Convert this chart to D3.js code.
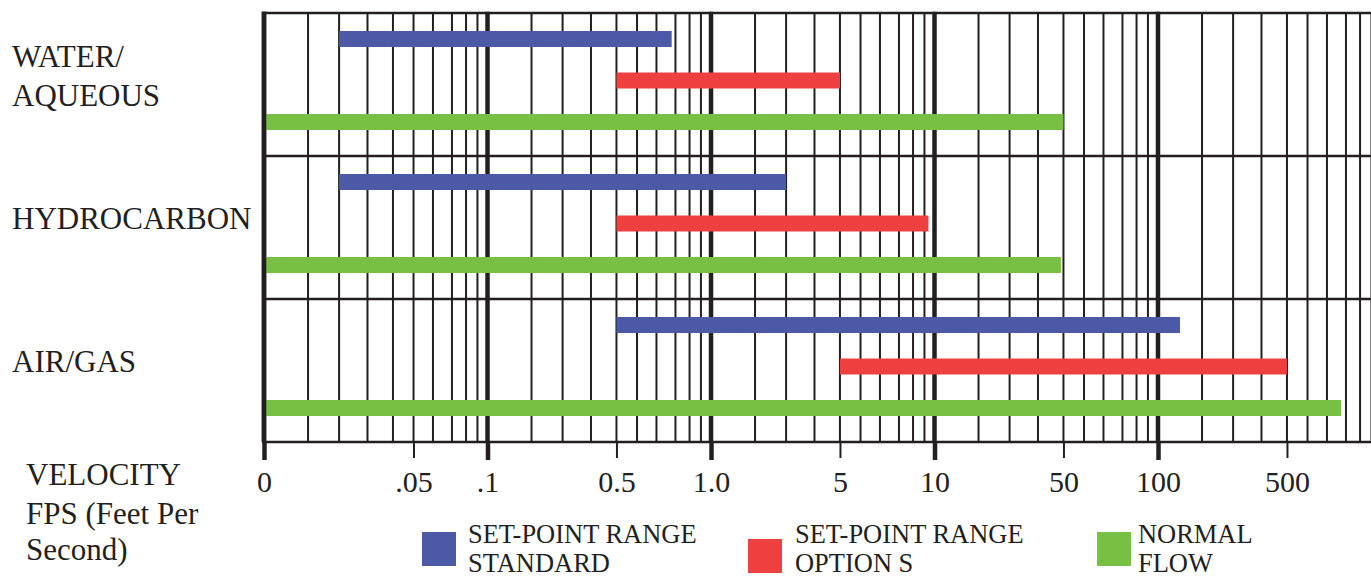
<!DOCTYPE html>
<html>
<head>
<meta charset="utf-8">
<script src="https://cdn.jsdelivr.net/npm/d3@7"></script>
<style>
  body { margin: 0; background: #fff; }
  svg { display: block; font-family: "Liberation Serif", "Times New Roman", serif; }
</style>
</head>
<body>
<div id="chart"></div>
<script>
// fluid rows
const fluids = ['WATER/AQUEOUS', 'HYDROCARBON', 'AIR/GAS'];
const fluidLabels = [['WATER/', 'AQUEOUS'], ['HYDROCARBON'], ['AIR/GAS']];
// series
const series = ['standard', 'optionS', 'normal'];
const seriesLabels = [['SET-POINT RANGE', 'STANDARD'], ['SET-POINT RANGE', 'OPTION S'], ['NORMAL', 'FLOW']];
const seriesColors = ['#4b59a7', '#ef4040', '#77c043'];
// velocity ranges [from, to] in ft/s, one pair per fluid
const standardRange = [[0.02, 0.78], [0.02, 3], [0.5, 150]];
const optionSRange = [[0.5, 5], [0.5, 9.7], [5, 500]];
const normalRange = [[0, 50], [0, 49], [0, 775]];
// grid lines of the velocity scale, one group per decade
const gridDecades = [
    [0, .01, .02, .03, .04, .05, .06, .07, .08, .09],
    [.1, .2, .3, .4, .5, .6, .7, .8, .9, .95],
    [1, 2, 3, 4, 5, 6, 7, 8, 9, 9.5],
    [10, 20, 30, 40, 50, 60, 70, 80, 90, 95],
    [100, 200, 300, 400, 500, 600, 700, 800, 900, 950]
];
const gridEnd = 1000;
const majorValues = [0, .1, 1, 10, 100];
const tickValues = [0, .05, .1, .5, 1, 5, 10, 50, 100, 500];
const tickLabels = ['0', '.05', '.1', '0.5', '1.0', '5', '10', '50', '100', '500'];
const axisTitle = ['VELOCITY', 'FPS (Feet Per', 'Second)'];

const W = 1371, H = 579;
const ink = '#231f20';
const margin = {left: 264, top: 13, bottom: 442};
const decadeW = 223.5;
// spacing of the lines inside one decade, as the chart paper draws it
const stepFrac = [0, .197, .336, .463, .577, .669, .756, .841, .904, .955];

const svg = d3.select('#chart').append('svg')
    .attr('width', W)
    .attr('height', H);

// x scale: piecewise over the grid lines
const xDomain = gridDecades.flat().concat([gridEnd]);
const xRange = [];
gridDecades.forEach((dec, d) => dec.forEach((v, i) => xRange.push(margin.left + (d + stepFrac[i]) * decadeW)));
xRange.push(margin.left + gridDecades.length * decadeW);
const xScale = d3.scaleLinear().domain(xDomain).range(xRange);

// y scales
const yScale = d3.scaleBand().domain(fluids).range([margin.top, margin.bottom]);
const ySub = d3.scalePoint().domain(series).range([26, 109]);
const barH = 16;

// horizontal lines
const hLines = fluids.map(f => yScale(f)).concat([margin.bottom]);
svg.append('g').selectAll('line')
    .data(hLines)
    .join('line')
    .attr('x1', margin.left - 2)
    .attr('x2', W)
    .attr('y1', d => d)
    .attr('y2', d => d)
    .attr('stroke', ink)
    .attr('stroke-width', 2.5);

// minor vertical lines
const minor = xDomain.filter(v => !majorValues.includes(v));
svg.append('g').selectAll('line')
    .data(minor)
    .join('line')
    .attr('x1', d => xScale(d))
    .attr('x2', d => xScale(d))
    .attr('y1', margin.top)
    .attr('y2', margin.bottom)
    .attr('stroke', ink)
    .attr('stroke-width', 2);

// major vertical lines
svg.append('g').selectAll('line')
    .data(majorValues)
    .join('line')
    .attr('x1', d => xScale(d))
    .attr('x2', d => xScale(d))
    .attr('y1', margin.top - 1.25)
    .attr('y2', margin.bottom)
    .attr('stroke', ink)
    .attr('stroke-width', 4.5);

// bars
const ranges = [standardRange, optionSRange, normalRange];
const bars = [];
fluids.forEach((f, i) => {
    series.forEach((s, j) => {
        bars.push({fluid: f, series: s, color: seriesColors[j], from: ranges[j][i][0], to: ranges[j][i][1]});
    });
});
svg.append('g').selectAll('rect')
    .data(bars)
    .join('rect')
    .attr('x', d => xScale(d.from))
    .attr('width', d => xScale(d.to) - xScale(d.from))
    .attr('y', d => yScale(d.fluid) + ySub(d.series) - barH / 2)
    .attr('height', barH)
    .attr('fill', d => d.color);

// zero line stays on top of the bars
svg.append('line')
    .attr('x1', xScale(0))
    .attr('x2', xScale(0))
    .attr('y1', margin.top - 1.25)
    .attr('y2', margin.bottom)
    .attr('stroke', ink)
    .attr('stroke-width', 4.5);

// x axis
const xAxis = d3.axisBottom(xScale)
    .tickValues(tickValues)
    .tickFormat((d, i) => tickLabels[i])
    .tickSize(17)
    .tickPadding(0);
const axisG = svg.append('g')
    .attr('transform', `translate(0,${margin.bottom})`)
    .call(xAxis)
    .attr('font-family', null)
    .attr('font-size', 30);
axisG.select('.domain').remove();
axisG.selectAll('.tick line')
    .attr('stroke', ink)
    .attr('y2', d => majorValues.includes(d) ? 18 : 16)
    .attr('stroke-width', d => majorValues.includes(d) ? 4.5 : 2);
axisG.selectAll('.tick text')
    .attr('fill', ink)
    .attr('y', 50)
    .attr('dy', 0);

// row labels
const rowG = svg.append('g').attr('font-size', 31).attr('fill', ink);
fluids.forEach((f, i) => {
    const lines = fluidLabels[i];
    rowG.append('text')
        .selectAll('tspan')
        .data(lines)
        .join('tspan')
        .attr('x', 12)
        .attr('y', (d, k) => yScale(f) + 73 + (k - (lines.length - 1) / 2) * 39)
        .text(d => d);
});

// axis title
svg.append('text')
    .attr('font-size', 31)
    .attr('fill', ink)
    .selectAll('tspan')
    .data(axisTitle)
    .join('tspan')
    .attr('x', 26)
    .attr('y', (d, k) => [485, 524, 560][k])
    .text(d => d);

// legend
const legendPos = [{x: 422, y: 532}, {x: 748, y: 539}, {x: 1097, y: 532}];
const textGap = [46, 47, 41];
const legend = svg.append('g').selectAll('g')
    .data(series)
    .join('g')
    .attr('transform', (d, i) => `translate(${legendPos[i].x},${legendPos[i].y})`);
legend.append('rect')
    .attr('width', 34)
    .attr('height', 34)
    .attr('fill', (d, i) => seriesColors[i]);
legend.each(function(d, i) {
    const g = d3.select(this);
    seriesLabels[i].forEach((t, k) => {
        g.append('text')
            .attr('font-size', 28)
            .attr('fill', ink)
            .attr('transform', `translate(${textGap[i]},${532 - legendPos[i].y + 11 + k * 29}) scale(0.945,1)`)
            .text(t);
    });
});
</script>
</body>
</html>
